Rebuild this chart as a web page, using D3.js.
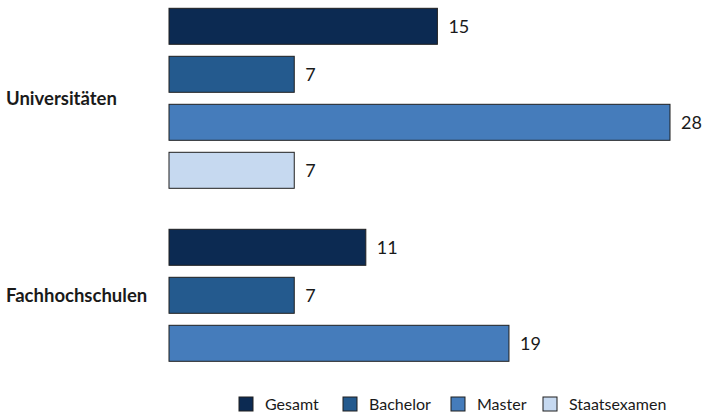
<!DOCTYPE html>
<html>
<head>
<meta charset="utf-8">
<script src="https://cdn.jsdelivr.net/npm/d3@7"></script>
<style>
  html, body { margin: 0; padding: 0; background: #ffffff; }
  svg { display: block; font-family: Lato, "Open Sans", sans-serif; }
</style>
</head>
<body>
<svg id="chart" width="702" height="412"></svg>
<script>
const categories = ["Universitäten", "Fachhochschulen"];
const seriesNames = ["Gesamt", "Bachelor", "Master", "Staatsexamen"];
const gesamtValues = [15, 11];
const bachelorValues = [7, 7];
const masterValues = [28, 19];
const staatsexamenValues = [7, null];
const seriesColors = ["#0c2a52", "#245a8e", "#457cbb", "#c6d9f0"];

const seriesValues = [gesamtValues, bachelorValues, masterValues, staatsexamenValues];

const svg = d3.select("#chart");

const x = d3.scaleLinear().domain([0, 28]).range([169, 670]);

const yGroup = d3.scaleBand()
  .domain(categories)
  .range([8.3, 409.3])
  .paddingInner(41 / 221)
  .paddingOuter(0);

const ySeries = d3.scaleBand()
  .domain(seriesNames)
  .range([0, yGroup.bandwidth()])
  .paddingInner(0.25)
  .paddingOuter(0);

const color = d3.scaleOrdinal().domain(seriesNames).range(seriesColors);

const rows = [];
categories.forEach((c, ci) => {
  seriesNames.forEach((s, si) => {
    const v = seriesValues[si][ci];
    if (v !== null && v !== undefined) rows.push({ category: c, series: s, value: v });
  });
});

const bars = svg.append("g");
bars.selectAll("rect")
  .data(rows)
  .join("rect")
  .attr("x", x(0))
  .attr("y", d => yGroup(d.category) + ySeries(d.series))
  .attr("width", d => x(d.value) - x(0))
  .attr("height", ySeries.bandwidth())
  .attr("fill", d => color(d.series))
  .attr("stroke", "#1f1f1f")
  .attr("stroke-width", 1);

svg.append("g").selectAll("text")
  .data(rows)
  .join("text")
  .attr("x", d => x(d.value) + 11)
  .attr("y", d => yGroup(d.category) + ySeries(d.series) + ySeries.bandwidth() / 2)
  .attr("dy", "0.35em")
  .attr("font-size", 18)
  .attr("fill", "#1a1a1a")
  .text(d => d.value);

// category labels centered on the bars present in each group
svg.append("g").selectAll("text")
  .data(categories)
  .join("text")
  .attr("x", 6)
  .attr("y", c => {
    const present = rows.filter(r => r.category === c);
    const top = d3.min(present, r => yGroup(c) + ySeries(r.series));
    const bot = d3.max(present, r => yGroup(c) + ySeries(r.series) + ySeries.bandwidth());
    return (top + bot) / 2;
  })
  .attr("dy", "0.35em")
  .attr("font-size", 18.5)
  .attr("font-weight", "bold")
  .attr("fill", "#1a1a1a")
  .text(c => c);

// legend
const legendX = [239, 343, 451, 543];
const legend = svg.append("g");
const items = legend.selectAll("g")
  .data(seriesNames)
  .join("g")
  .attr("transform", (d, i) => `translate(${legendX[i]},397)`);
items.append("rect")
  .attr("width", 14).attr("height", 14)
  .attr("fill", d => color(d))
  .attr("stroke", "#1f1f1f").attr("stroke-width", 1);
items.append("text")
  .attr("x", 26).attr("y", 7).attr("dy", "0.35em")
  .attr("font-size", 16)
  .attr("fill", "#1a1a1a")
  .text(d => d);
</script>
</body>
</html>
